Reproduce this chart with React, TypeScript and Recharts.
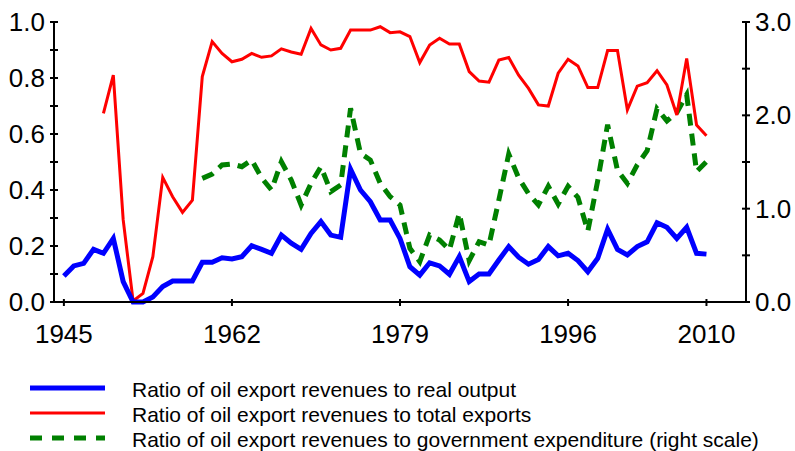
import React from 'react';
import { LineChart, Line, XAxis, YAxis } from 'recharts';

const years = [
  1945, 1946, 1947, 1948, 1949, 1950, 1951, 1952, 1953, 1954, 1955, 1956, 1957, 1958, 1959, 1960, 1961,
  1962, 1963, 1964, 1965, 1966, 1967, 1968, 1969, 1970, 1971, 1972, 1973, 1974, 1975, 1976, 1977, 1978,
  1979, 1980, 1981, 1982, 1983, 1984, 1985, 1986, 1987, 1988, 1989, 1990, 1991, 1992, 1993, 1994, 1995,
  1996, 1997, 1998, 1999, 2000, 2001, 2002, 2003, 2004, 2005, 2006, 2007, 2008, 2009, 2010,
];

// ratio to real output (left scale)
const realOutput = [
  0.093, 0.129, 0.138, 0.188, 0.174, 0.227, 0.073, 0.0, 0.0, 0.018, 0.055, 0.075, 0.075, 0.075, 0.142, 0.142, 0.158,
  0.154, 0.162, 0.201, 0.188, 0.174, 0.239, 0.21, 0.188, 0.245, 0.287, 0.239, 0.231, 0.474, 0.4, 0.358, 0.293, 0.293,
  0.227, 0.126, 0.096, 0.14, 0.129, 0.099, 0.162, 0.073, 0.1, 0.1, 0.15, 0.198, 0.16, 0.135, 0.152, 0.198, 0.165,
  0.174, 0.148, 0.108, 0.156, 0.26, 0.188, 0.168, 0.198, 0.215, 0.283, 0.267, 0.227, 0.267, 0.174, 0.171,
];

// ratio to total exports (left scale)
const totalExports = [
  null, null, null, null, 0.674, 0.81, 0.293, 0.004, 0.031, 0.162, 0.445, 0.376, 0.32, 0.364, 0.805, 0.93, 0.888,
  0.858, 0.867, 0.888, 0.874, 0.879, 0.904, 0.893, 0.885, 0.977, 0.918, 0.9, 0.906, 0.971, 0.971, 0.971, 0.983, 0.962,
  0.965, 0.948, 0.855, 0.918, 0.942, 0.921, 0.921, 0.823, 0.789, 0.785, 0.864, 0.873, 0.81, 0.763, 0.704, 0.7, 0.817,
  0.867, 0.843, 0.766, 0.766, 0.898, 0.898, 0.686, 0.771, 0.783, 0.826, 0.775, 0.668, 0.87, 0.632, 0.594,
];

// ratio to government expenditure (right scale)
const govExpenditure = [
  null, null, null, null, null, null, null, null, null, null, null, null, null, null, 1.325, 1.371, 1.468,
  1.479, 1.45, 1.521, 1.33, 1.2, 1.503, 1.307, 1.039, 1.271, 1.45, 1.182, 1.254, 2.075, 1.593, 1.521, 1.271, 1.129,
  1.039, 0.575, 0.432, 0.718, 0.664, 0.557, 0.95, 0.443, 0.646, 0.61, 1.093, 1.585, 1.33, 1.16, 1.04, 1.24, 1.05,
  1.24, 1.12, 0.76, 1.3, 1.9, 1.41, 1.27, 1.47, 1.62, 2.07, 1.94, 2.03, 2.22, 1.396, 1.503,
];

const xTicks = [1945, 1962, 1979, 1996, 2010];
const leftTicks = [0, 0.1, 0.2, 0.3, 0.4, 0.5, 0.6, 0.7, 0.8, 0.9, 1.0];
const rightTicks = [0, 0.5, 1.0, 1.5, 2.0, 2.5, 3.0];

const legendItems = [
  { label: 'Ratio of oil export revenues to real output', color: '#0000ff', width: 5, dash: undefined },
  { label: 'Ratio of oil export revenues to total exports', color: '#ff0000', width: 3, dash: undefined },
  { label: 'Ratio of oil export revenues to government expenditure (right scale)', color: '#008000', width: 5, dash: '12 10' },
];

const FONT = '"Liberation Sans", Arial, sans-serif';

const data = years.map((year, i) => ({
  year,
  realOutput: realOutput[i],
  totalExports: totalExports[i],
  govExpenditure: govExpenditure[i],
}));

const LeftTick = ({ x, y, payload }: any) => {
  const major = Math.round(payload.value * 10) % 2 === 0;
  return (
    <g>
      <line x1={x - 4} x2={x + 4} y1={y} y2={y} stroke="#000" strokeWidth={2} />
      {major && (
        <text x={x - 9} y={y + 9} textAnchor="end" fontSize={26} fontFamily={FONT} fill="#000">
          {payload.value.toFixed(1)}
        </text>
      )}
    </g>
  );
};

const RightTick = ({ x, y, payload }: any) => {
  const major = Number.isInteger(payload.value);
  return (
    <g>
      <line x1={x - 4} x2={x + 4} y1={y} y2={y} stroke="#000" strokeWidth={2} />
      {major && (
        <text x={x + 9} y={y + 9} textAnchor="start" fontSize={26} fontFamily={FONT} fill="#000">
          {payload.value.toFixed(1)}
        </text>
      )}
    </g>
  );
};

const BottomTick = ({ x, y, payload }: any) => (
  <g>
    <line x1={x} x2={x} y1={y - 3} y2={y + 4} stroke="#000" strokeWidth={2} />
    <text x={x} y={y + 41} textAnchor="middle" fontSize={26} fontFamily={FONT} fill="#000">
      {payload.value}
    </text>
  </g>
);

export default function App() {
  return (
    <div style={{ position: 'absolute', left: 0, top: 0, width: 795, height: 451, background: '#fff' }}>
      <LineChart width={795} height={451} data={data} margin={{ top: 22, right: 0, left: 0, bottom: 109 }}>
        <XAxis
          dataKey="year"
          type="number"
          domain={[1944, 2014]}
          ticks={xTicks}
          height={40}
          tickSize={0}
          tickMargin={0}
          tick={<BottomTick />}
          axisLine={{ stroke: '#000', strokeWidth: 2 }}
          tickLine={false}
        />
        <YAxis
          yAxisId="left"
          domain={[0, 1]}
          ticks={leftTicks}
          width={54}
          tickSize={0}
          tickMargin={0}
          tick={<LeftTick />}
          axisLine={{ stroke: '#000', strokeWidth: 2 }}
          tickLine={false}
          interval={0}
        />
        <YAxis
          yAxisId="right"
          orientation="right"
          domain={[0, 3]}
          ticks={rightTicks}
          width={49}
          tickSize={0}
          tickMargin={0}
          tick={<RightTick />}
          axisLine={{ stroke: '#000', strokeWidth: 2 }}
          tickLine={false}
          interval={0}
        />
        <Line
          yAxisId="right"
          dataKey="govExpenditure"
          stroke="#008000"
          strokeWidth={5}
          strokeDasharray="12 8"
          dot={false}
          isAnimationActive={false}
        />
        <Line
          yAxisId="left"
          dataKey="totalExports"
          stroke="#ff0000"
          strokeWidth={3}
          dot={false}
          isAnimationActive={false}
        />
        <Line
          yAxisId="left"
          dataKey="realOutput"
          stroke="#0000ff"
          strokeWidth={5}
          dot={false}
          isAnimationActive={false}
        />
      </LineChart>
      <svg width={795} height={81} style={{ position: 'absolute', left: 0, top: 370 }}>
        {legendItems.map((item, i) => (
          <g key={item.label}>
            <line
              x1={30}
              x2={105}
              y1={18 + i * 25}
              y2={18 + i * 25}
              stroke={item.color}
              strokeWidth={item.width}
              strokeDasharray={item.dash}
            />
            <text x={132} y={27 + i * 25} fontSize={21} fontFamily={FONT} fill="#000">
              {item.label}
            </text>
          </g>
        ))}
      </svg>
    </div>
  );
}
